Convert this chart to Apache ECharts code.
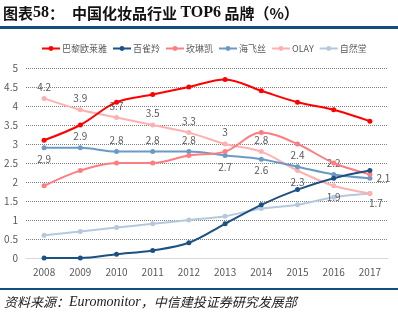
<!DOCTYPE html>
<html>
<head>
<meta charset="utf-8">
<script src="https://cdn.jsdelivr.net/npm/echarts@6/dist/echarts.min.js"></script>
<style>
  html, body { margin: 0; padding: 0; background: #fff; }
  #chart { width: 398px; height: 316px; }
</style>
</head>
<body>
<div id="chart"></div>
<script>
var years = ['2008', '2009', '2010', '2011', '2012', '2013', '2014', '2015', '2016', '2017'];
var yTicks = ['0', '0.5', '1', '1.5', '2', '2.5', '3', '3.5', '4', '4.5', '5'];

var loreal = [3.1, 3.5, 4.1, 4.3, 4.5, 4.7, 4.4, 4.1, 3.9, 3.6];
var pechoin = [0, 0, 0.1, 0.2, 0.4, 0.9, 1.4, 1.8, 2.1, 2.3];
var marykay = [1.9, 2.3, 2.5, 2.5, 2.7, 2.8, 3.3, 3.0, 2.5, 2.2];
var headShoulders = [2.9, 2.9, 2.8, 2.8, 2.8, 2.7, 2.6, 2.4, 2.2, 2.1];
var olay = [4.2, 3.9, 3.7, 3.5, 3.3, 3.0, 2.8, 2.3, 1.9, 1.7];
var chando = [0.6, 0.7, 0.8, 0.9, 1.0, 1.1, 1.3, 1.4, 1.6, 1.7];

// where each value label sits (Excel placed them by hand)
var olayLabelPos = ['top', 'top', 'top', 'top', 'top', 'top', 'top', 'bottom', 'bottom', 'bottom'];
var hsLabelPos = ['bottom', 'top', 'top', 'top', 'top', 'bottom', 'bottom', 'top', 'top', 'right'];

var chart = echarts.init(document.getElementById('chart'));

function withLabels(values, positions) {
    return values.map(function (v, i) {
        var lab = { show: true, position: positions[i] };
        if (i === values.length - 1 && positions[i] === 'bottom') lab.offset = [6, -2];
        return { value: v, label: lab };
    });
}

function lineSeries(name, color, data, z) {
    return {
        name: name,
        type: 'line',
        data: data,
        smooth: 0.35,
        symbol: 'circle',
        symbolSize: 5,
        z: z,
        lineStyle: { color: color, width: 2 },
        itemStyle: { color: color },
        label: { show: false, color: '#595959', fontSize: 10, distance: 4 }
    };
}

var option = {
    animation: false,
    backgroundColor: '#fff',
    textStyle: { fontFamily: 'Noto Sans CJK SC, sans-serif' },
    legend: {
        top: 39,
        left: 36,
        itemWidth: 18,
        itemHeight: 6,
        itemGap: 5,
        textStyle: { color: '#595959', fontSize: 9, padding: [0, 0, 0, -3] },
        data: ['巴黎欧莱雅', '百雀羚', '玫琳凯', '海飞丝', 'OLAY', '自然堂']
    },
    grid: { left: 26, right: 10, top: 68, bottom: 58 },
    xAxis: {
        type: 'category',
        data: years,
        boundaryGap: true,
        axisLine: { lineStyle: { color: '#d9d9d9' } },
        axisTick: { show: false },
        axisLabel: { color: '#595959', fontSize: 10, margin: 9 }
    },
    yAxis: {
        type: 'value',
        min: 0,
        max: 5,
        interval: 0.5,
        axisLine: { show: false },
        axisTick: { show: false },
        axisLabel: {
            color: '#595959', fontSize: 10, margin: 8,
            formatter: function (v) { return yTicks[Math.round(v * 2)]; }
        },
        splitLine: { lineStyle: { color: '#7f7f7f', type: [1, 1], width: 1 } }
    },
    series: [
        lineSeries('巴黎欧莱雅', '#ff0000', loreal, 6),
        lineSeries('百雀羚', '#1b5183', pechoin, 5),
        lineSeries('玫琳凯', '#ff7c80', marykay, 4),
        lineSeries('海飞丝', '#6b9ac4', withLabels(headShoulders, hsLabelPos), 3),
        lineSeries('OLAY', '#ffb0b0', withLabels(olay, olayLabelPos), 2),
        lineSeries('自然堂', '#b4c8de', chando, 1)
    ],
    graphic: [
        {
            type: 'text', left: 3, top: 5,
            style: {
                text: '{a|图表}{b|58}{a|：}',
                rich: {
                    a: { fontFamily: 'Noto Sans CJK SC', fontWeight: 'bold', fontSize: 15, fill: '#111' },
                    b: { fontFamily: 'Liberation Serif', fontWeight: 'bold', fontSize: 16, fill: '#111' }
                }
            }
        },
        {
            type: 'text', left: 72, top: 5,
            style: {
                text: '{a|中国化妆品行业 }{b|TOP6}{a| 品牌（%）}',
                rich: {
                    a: { fontFamily: 'Noto Sans CJK SC', fontWeight: 'bold', fontSize: 15, fill: '#111' },
                    b: { fontFamily: 'Liberation Serif', fontWeight: 'bold', fontSize: 16, fill: '#111' }
                }
            }
        },
        {
            type: 'rect', left: 0, top: 26,
            shape: { width: 398, height: 3 },
            style: { fill: '#154d80' }
        },
        {
            type: 'rect', left: 0, top: 288,
            shape: { width: 398, height: 2 },
            style: { fill: '#154d80' }
        },
        {
            type: 'text', left: 4, top: 295,
            style: {
                text: '{a|资料来源：}{b|Euromonitor}{a|，中信建投证券研究发展部}',
                rich: {
                    a: { fontFamily: 'Noto Sans CJK SC', fontStyle: 'italic', fontSize: 13, fill: '#222' },
                    b: { fontFamily: 'Liberation Serif', fontStyle: 'italic', fontSize: 14, fill: '#222' }
                }
            }
        }
    ]
};

chart.setOption(option);
</script>
</body>
</html>
